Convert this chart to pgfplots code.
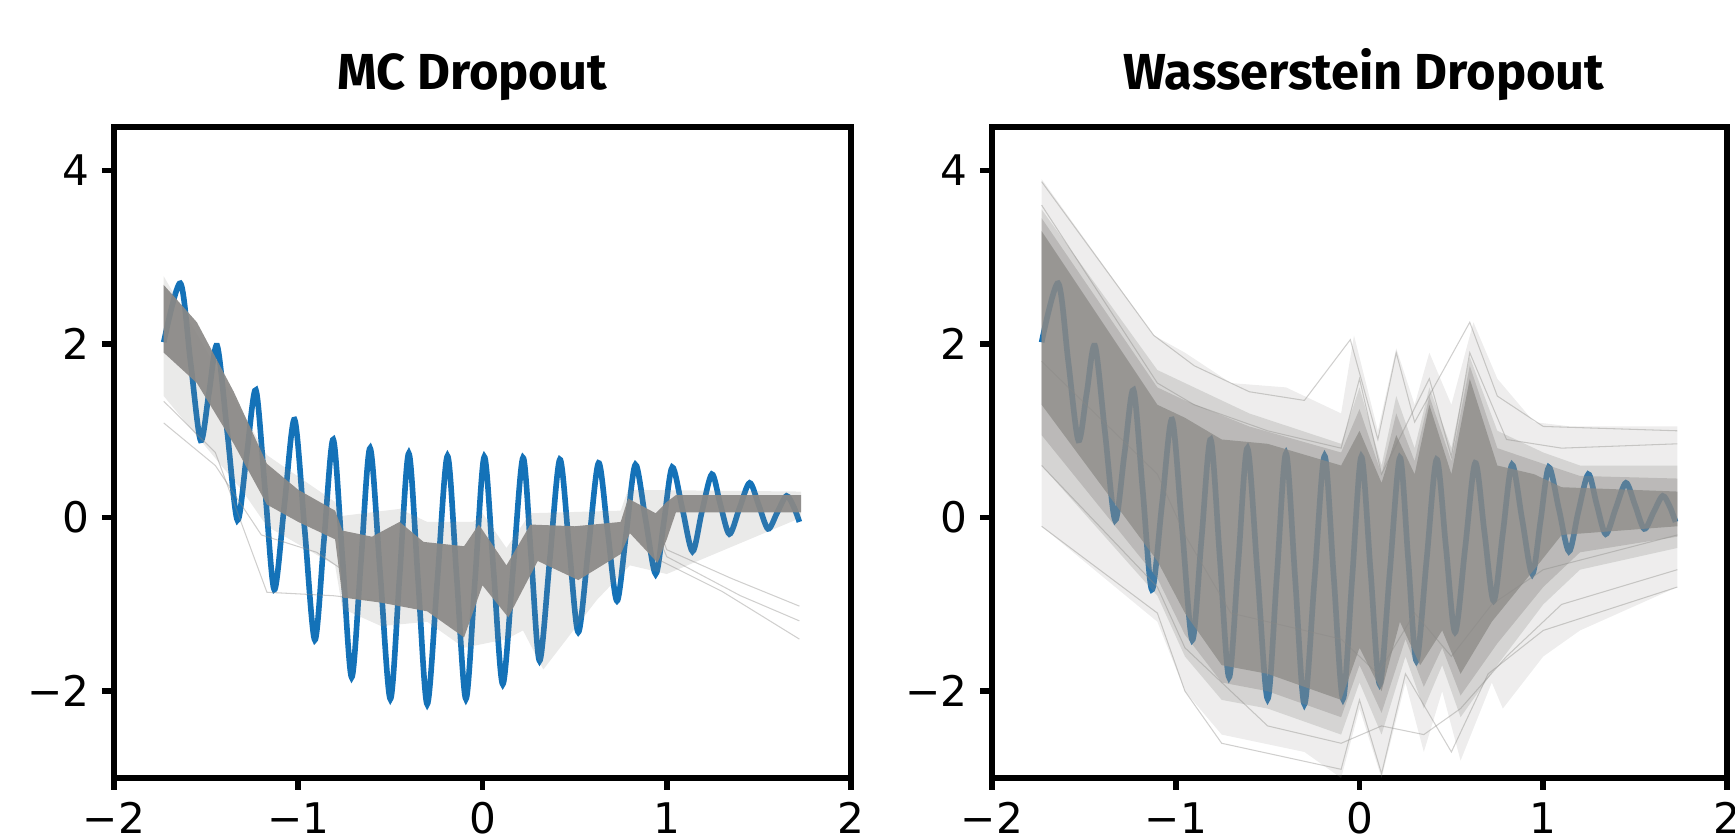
\documentclass[border=0pt]{standalone}
\usepackage{fontspec}
\usepackage{pgfplots}
\usepackage{pgfplotstable}
\pgfplotsset{compat=1.18}
\setmainfont{DejaVu Sans}
\newfontfamily\titlefont{Fira Sans}

\definecolor{mplblue}{RGB}{20,114,184}
\definecolor{ens}{RGB}{138,136,133}

\pgfplotstableread{
x y
-1.73 2.02
-1.64 2.70
-1.585 1.80
-1.53 0.89
-1.485 1.43
-1.44 1.98
-1.385 0.98
-1.33 -0.03
-1.28 0.72
-1.23 1.47
-1.18 0.32
-1.13 -0.83
-1.075 0.15
-1.02 1.13
-0.965 -0.14
-0.91 -1.41
-0.86 -0.25
-0.81 0.90
-0.76 -0.47
-0.71 -1.84
-0.66 -0.52
-0.61 0.80
-0.555 -0.65
-0.50 -2.09
-0.45 -0.68
-0.40 0.74
-0.35 -0.71
-0.30 -2.15
-0.245 -0.72
-0.19 0.71
-0.14 -0.69
-0.09 -2.09
-0.04 -0.70
0.01 0.70
0.06 -0.61
0.11 -1.92
0.165 -0.62
0.22 0.69
0.265 -0.48
0.31 -1.65
0.365 -0.49
0.42 0.67
0.47 -0.33
0.52 -1.32
0.575 -0.35
0.63 0.63
0.68 -0.17
0.73 -0.96
0.78 -0.18
0.83 0.61
0.885 -0.02
0.94 -0.65
0.985 -0.04
1.03 0.58
1.085 0.10
1.14 -0.39
1.19 0.06
1.245 0.50
1.29 0.16
1.34 -0.19
1.395 0.11
1.45 0.40
1.50 0.14
1.55 -0.13
1.60 0.06
1.65 0.25
1.69 0.12
1.72 -0.05
}\truefn

\begin{document}
\begin{tikzpicture}
\clip (-1.14cm,-0.57cm) rectangle (16.21cm,7.78cm);
\pgfplotsset{
  panel/.style={
    scale only axis, height=6.51cm,
    xmin=-2, xmax=2, ymin=-3, ymax=4.5,
    axis line style={line width=1.9pt},
    tick style={line width=1.6pt, black},
    major tick length=0.12cm,
    tick align=outside,
    xtick pos=left, ytick pos=left,
    xtick={-2,-1,0,1,2}, xticklabels={−2,−1,0,1,2},
    ytick={-2,0,2,4}, yticklabels={−2,0,2,4},
    tick label style={font=\fontsize{12}{14}\selectfont},
  },
  truth/.style={mplblue, line width=1.6pt, smooth},
  stray/.style={ens, line width=0.3pt, opacity=0.4},
}

% ---------------- MC Dropout ----------------
\begin{axis}[panel, width=7.37cm]
\addplot[truth] table {\truefn};
% light spread of the samples
\addplot[fill=ens, fill opacity=0.18, draw=none] coordinates {
(-1.73,2.78) (-1.17,0.72) (-0.8,0.18) (-0.76,0.02) (-0.45,0.10) (-0.3,-0.05)
(-0.05,-0.05) (0.0,0.05) (0.13,-0.35) (0.26,0.05) (0.75,0.08) (0.79,0.32) (1.73,0.30)
(1.73,0.0) (1.0,-0.65) (0.8,-0.55) (0.62,-0.95) (0.33,-1.75) (0.22,-1.3) (0.13,-1.4)
(-0.1,-1.5) (-0.3,-1.2) (-0.55,-1.25) (-0.76,-1.05) (-0.8,-0.55) (-1.17,-0.1)
(-1.3,0.3) (-1.73,1.4)};
% dense core of the samples
\addplot[fill=ens, fill opacity=0.92, draw=none] coordinates {
(-1.73,2.68) (-1.55,2.25) (-1.35,1.45) (-1.17,0.62) (-1.0,0.32) (-0.8,0.08)
(-0.76,-0.15) (-0.6,-0.22) (-0.45,-0.05) (-0.32,-0.28) (-0.1,-0.33) (-0.02,-0.08)
(0.13,-0.55) (0.26,-0.08) (0.5,-0.1) (0.75,-0.05) (0.79,0.22) (0.94,0.05)
(1.0,0.18) (1.05,0.26) (1.73,0.26)
(1.73,0.06) (1.05,0.06) (1.0,-0.25) (0.95,-0.52) (0.8,-0.18) (0.75,-0.42)
(0.52,-0.72) (0.3,-0.5) (0.14,-1.15) (0.0,-0.78) (-0.1,-1.38) (-0.3,-1.08)
(-0.55,-0.98) (-0.76,-0.92) (-0.8,-0.25) (-1.0,-0.05) (-1.17,0.15) (-1.35,0.85)
(-1.55,1.55) (-1.73,1.9)};
% stray samples
\addplot[stray] coordinates {(-1.73,1.34) (-1.45,0.75) (-1.17,-0.86) (-0.81,-0.9) (-0.6,-0.95)};
\addplot[stray] coordinates {(-1.73,1.09) (-1.45,0.6) (-1.2,-0.2) (-0.9,-0.4) (-0.76,-0.6)};
\addplot[stray] coordinates {(0.97,-0.2) (1.0,-0.37) (1.35,-0.7) (1.72,-1.02)};
\addplot[stray] coordinates {(0.97,-0.3) (1.0,-0.45) (1.4,-0.9) (1.72,-1.19)};
\addplot[stray] coordinates {(0.95,-0.4) (0.97,-0.5) (1.3,-0.85) (1.72,-1.40)};
\end{axis}

% ---------------- Wasserstein Dropout ----------------
\begin{axis}[panel, width=7.35cm, at={(8.78cm,0cm)}]
\addplot[truth] table {\truefn};
\addplot[fill=ens, fill opacity=0.15, draw=none] coordinates {
(-1.73,3.9) (-1.12,2.1) (-0.95,1.9) (-0.7,1.55) (-0.4,1.5) (-0.1,1.2) (-0.03,2.1)
(0.1,1.0) (0.2,1.95) (0.3,1.3) (0.38,1.9) (0.5,1.3) (0.62,2.25) (0.75,1.6)
(0.95,1.1) (1.15,1.05) (1.73,1.05)
(1.73,-0.8) (1.2,-1.3) (1.0,-1.6) (0.78,-2.2) (0.72,-1.9) (0.55,-2.8) (0.45,-2.0)
(0.35,-2.7) (0.25,-1.9) (0.12,-3.0) (0.0,-2.2) (-0.1,-3.0) (-0.3,-2.7)
(-0.75,-2.5) (-0.95,-2.0) (-1.1,-1.2) (-1.73,-0.1)};
\addplot[fill=ens, fill opacity=0.25, draw=none] coordinates {
(-1.73,3.55) (-1.1,1.7) (-0.95,1.55) (-0.6,1.2) (-0.1,0.85) (0.0,1.5) (0.12,0.6)
(0.2,1.4) (0.3,0.8) (0.38,1.5) (0.5,0.8) (0.6,1.85) (0.75,1.0) (1.0,0.75)
(1.2,0.6) (1.73,0.6)
(1.73,-0.35) (1.2,-0.6) (1.0,-1.0) (0.75,-1.7) (0.55,-2.3) (0.45,-1.7) (0.35,-2.2)
(0.25,-1.6) (0.12,-2.5) (0.0,-1.9) (-0.1,-2.5) (-0.5,-2.2) (-0.75,-2.1)
(-0.95,-1.6) (-1.1,-0.9) (-1.73,0.6)};
\addplot[fill=ens, fill opacity=0.35, draw=none] coordinates {
(-1.73,3.45) (-1.1,1.5) (-0.95,1.35) (-0.6,1.05) (-0.1,0.75) (0.0,1.25) (0.12,0.5)
(0.2,1.2) (0.3,0.65) (0.38,1.4) (0.5,0.65) (0.6,1.75) (0.75,0.8) (1.0,0.62)
(1.2,0.48) (1.73,0.45)
(1.73,-0.22) (1.2,-0.4) (1.0,-0.8) (0.75,-1.45) (0.55,-2.05) (0.45,-1.5)
(0.35,-1.95) (0.25,-1.4) (0.12,-2.25) (0.0,-1.7) (-0.1,-2.3) (-0.5,-2.0)
(-0.75,-1.9) (-0.95,-1.35) (-1.1,-0.7) (-1.73,0.95)};
\addplot[fill=ens, fill opacity=0.72, draw=none] coordinates {
(-1.73,3.3) (-1.1,1.3) (-0.95,1.15) (-0.75,0.9) (-0.5,0.85) (-0.1,0.6) (0.0,1.0)
(0.12,0.4) (0.2,0.95) (0.3,0.5) (0.38,1.3) (0.5,0.5) (0.6,1.6) (0.75,0.6)
(0.95,0.5) (1.1,0.35) (1.73,0.3)
(1.73,-0.1) (1.1,-0.2) (0.95,-0.6) (0.72,-1.2) (0.55,-1.8) (0.45,-1.3)
(0.33,-1.7) (0.22,-1.2) (0.12,-2.0) (0.0,-1.5) (-0.1,-2.1) (-0.5,-1.8)
(-0.75,-1.7) (-0.95,-1.1) (-1.1,-0.5) (-1.73,1.3)};
% stray samples
\addplot[stray] coordinates {(-1.73,3.87) (-1.12,2.1) (-0.9,1.75) (-0.6,1.45) (-0.3,1.35) (-0.05,2.05) (0.1,0.9) (0.2,1.9) (0.3,1.1) (0.6,2.25) (0.75,1.4) (1.0,1.05) (1.73,1.0)};
\addplot[stray] coordinates {(-1.73,-0.1) (-1.1,-1.1) (-0.95,-2.0) (-0.75,-2.6) (-0.1,-2.9) (0.0,-2.1) (0.12,-2.95) (0.25,-1.8) (0.5,-2.7) (0.7,-1.8) (1.0,-1.3) (1.73,-0.8)};
\addplot[stray] coordinates {(-1.73,0.6) (-1.1,-0.8) (-0.95,-1.5) (-0.5,-2.4) (-0.1,-2.6) (0.12,-2.4) (0.35,-2.5) (0.55,-2.2) (0.8,-1.6) (1.1,-1.0) (1.73,-0.6)};
\addplot[stray] coordinates {(-1.73,3.6) (-1.1,1.55) (-0.9,1.3) (-0.5,1.0) (-0.1,0.8) (0.0,1.6) (0.12,0.5) (0.38,1.6) (0.5,0.7) (0.6,1.9) (0.8,0.9) (1.1,0.8) (1.73,0.85)};
\addplot[stray] coordinates {(-1.73,1.8) (-1.1,0.5) (-0.95,-0.2) (-0.7,-1.1) (-0.1,-1.4) (0.1,-1.8) (0.3,-1.1) (0.5,-1.6) (0.72,-1.0) (1.0,-0.6) (1.73,-0.2)};
\end{axis}

\node[anchor=base, font=\titlefont\bfseries\fontsize{14.4}{17}\selectfont] at (3.58cm,6.88cm) {MC Dropout};
\node[anchor=base, font=\titlefont\bfseries\fontsize{14.4}{17}\selectfont] at (12.50cm,6.88cm) {Wasserstein Dropout};
\end{tikzpicture}
\end{document}
